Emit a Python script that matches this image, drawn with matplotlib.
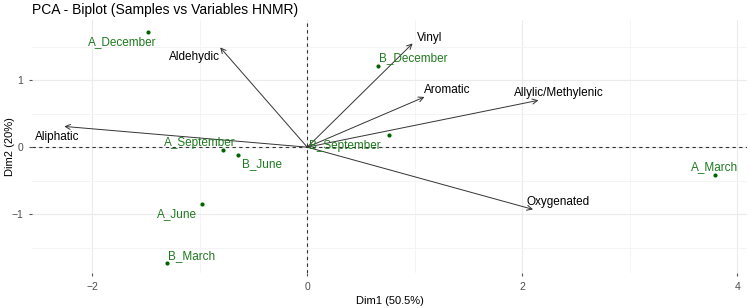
import matplotlib
matplotlib.use("Agg")
import matplotlib.pyplot as plt
from matplotlib.ticker import MultipleLocator

plt.rcParams['font.family'] = ['Liberation Sans', 'DejaVu Sans']

# Samples (individuals)
samples = ["A_December", "B_December", "B_September", "A_September",
           "B_June", "A_June", "B_March", "A_March"]
sample_x = [-1.48, 0.66, 0.76, -0.78, -0.64, -0.98, -1.30, 3.79]
sample_y = [1.72, 1.22, 0.18, -0.04, -0.12, -0.85, -1.73, -0.42]
sample_lab_x = [-1.72, 0.99, 0.35, -1.00, -0.42, -1.21, -1.08, 3.79]
sample_lab_y = [1.57, 1.33, 0.01, 0.06, -0.25, -1.00, -1.63, -0.30]

# Variables (arrows)
variables = ["Aldehydic", "Aliphatic", "Vinyl", "Aromatic",
             "Allylic/Methylenic", "Oxygenated"]
var_x = [-0.81, -2.26, 0.98, 1.09, 2.15, 2.10]
var_y = [1.49, 0.31, 1.55, 0.75, 0.70, -0.93]
var_lab_x = [-1.05, -2.33, 1.14, 1.30, 2.34, 2.33]
var_lab_y = [1.34, 0.15, 1.63, 0.85, 0.81, -0.82]

title = "PCA - Biplot (Samples vs Variables HNMR)"
xlabel = "Dim1 (50.5%)"
ylabel = "Dim2 (20%)"
xticks = [-2, 0, 2, 4]
yticks = [-1, 0, 1]

fig = plt.figure(figsize=(7.5, 3.08), dpi=100)
ax = fig.add_axes([32/750, 1 - 273/308, (747 - 32)/750, (273 - 20)/308])

ax.set_xlim(-2.56, 4.09)
ax.set_ylim(-1.88, 1.90)

ax.set_xticks(xticks)
ax.set_yticks(yticks)
ax.xaxis.set_minor_locator(MultipleLocator(1))
ax.yaxis.set_minor_locator(MultipleLocator(0.5))
ax.grid(which='major', color='#ebebeb', linewidth=0.8)
ax.grid(which='minor', color='#f3f3f3', linewidth=0.6)
ax.set_axisbelow(True)
for s in ax.spines.values():
    s.set_visible(False)
ax.tick_params(which='major', length=2.5, color='#555555', labelsize=7.5,
               labelcolor='#4d4d4d', width=0.8, pad=4)
ax.tick_params(which='minor', length=0)

ax.axhline(0, color='#333333', linestyle=(0, (3, 3)), linewidth=0.8, zorder=1)
ax.axvline(0, color='#333333', linestyle=(0, (3, 3)), linewidth=0.8, zorder=1)

# arrows
for vx, vy, lx, ly, name in zip(var_x, var_y, var_lab_x, var_lab_y, variables):
    ax.annotate("", xy=(vx, vy), xytext=(0, 0),
                arrowprops=dict(arrowstyle='->', color='#333333', lw=0.7,
                                mutation_scale=9, shrinkA=0, shrinkB=0),
                zorder=2)
    ax.text(lx, ly, name, fontsize=8.5, color='black', ha='center', va='center', zorder=3)

# samples
ax.scatter(sample_x, sample_y, s=9, color='#006400', zorder=4, linewidths=0)
for px, py, lx, ly, name in zip(sample_x, sample_y, sample_lab_x, sample_lab_y, samples):
    ax.text(lx, ly, name, fontsize=8.5, color='#1f7a1f', ha='center', va='center', zorder=5)

ax.set_xlabel(xlabel, fontsize=8, labelpad=3)
fig.text(10/750, 1 - 147/308, ylabel, fontsize=8, rotation=90, ha='center', va='center')
fig.text(32/750, 1 - 10/308, title, fontsize=10, ha='left', va='center')

fig.savefig("out.png", dpi=100)
